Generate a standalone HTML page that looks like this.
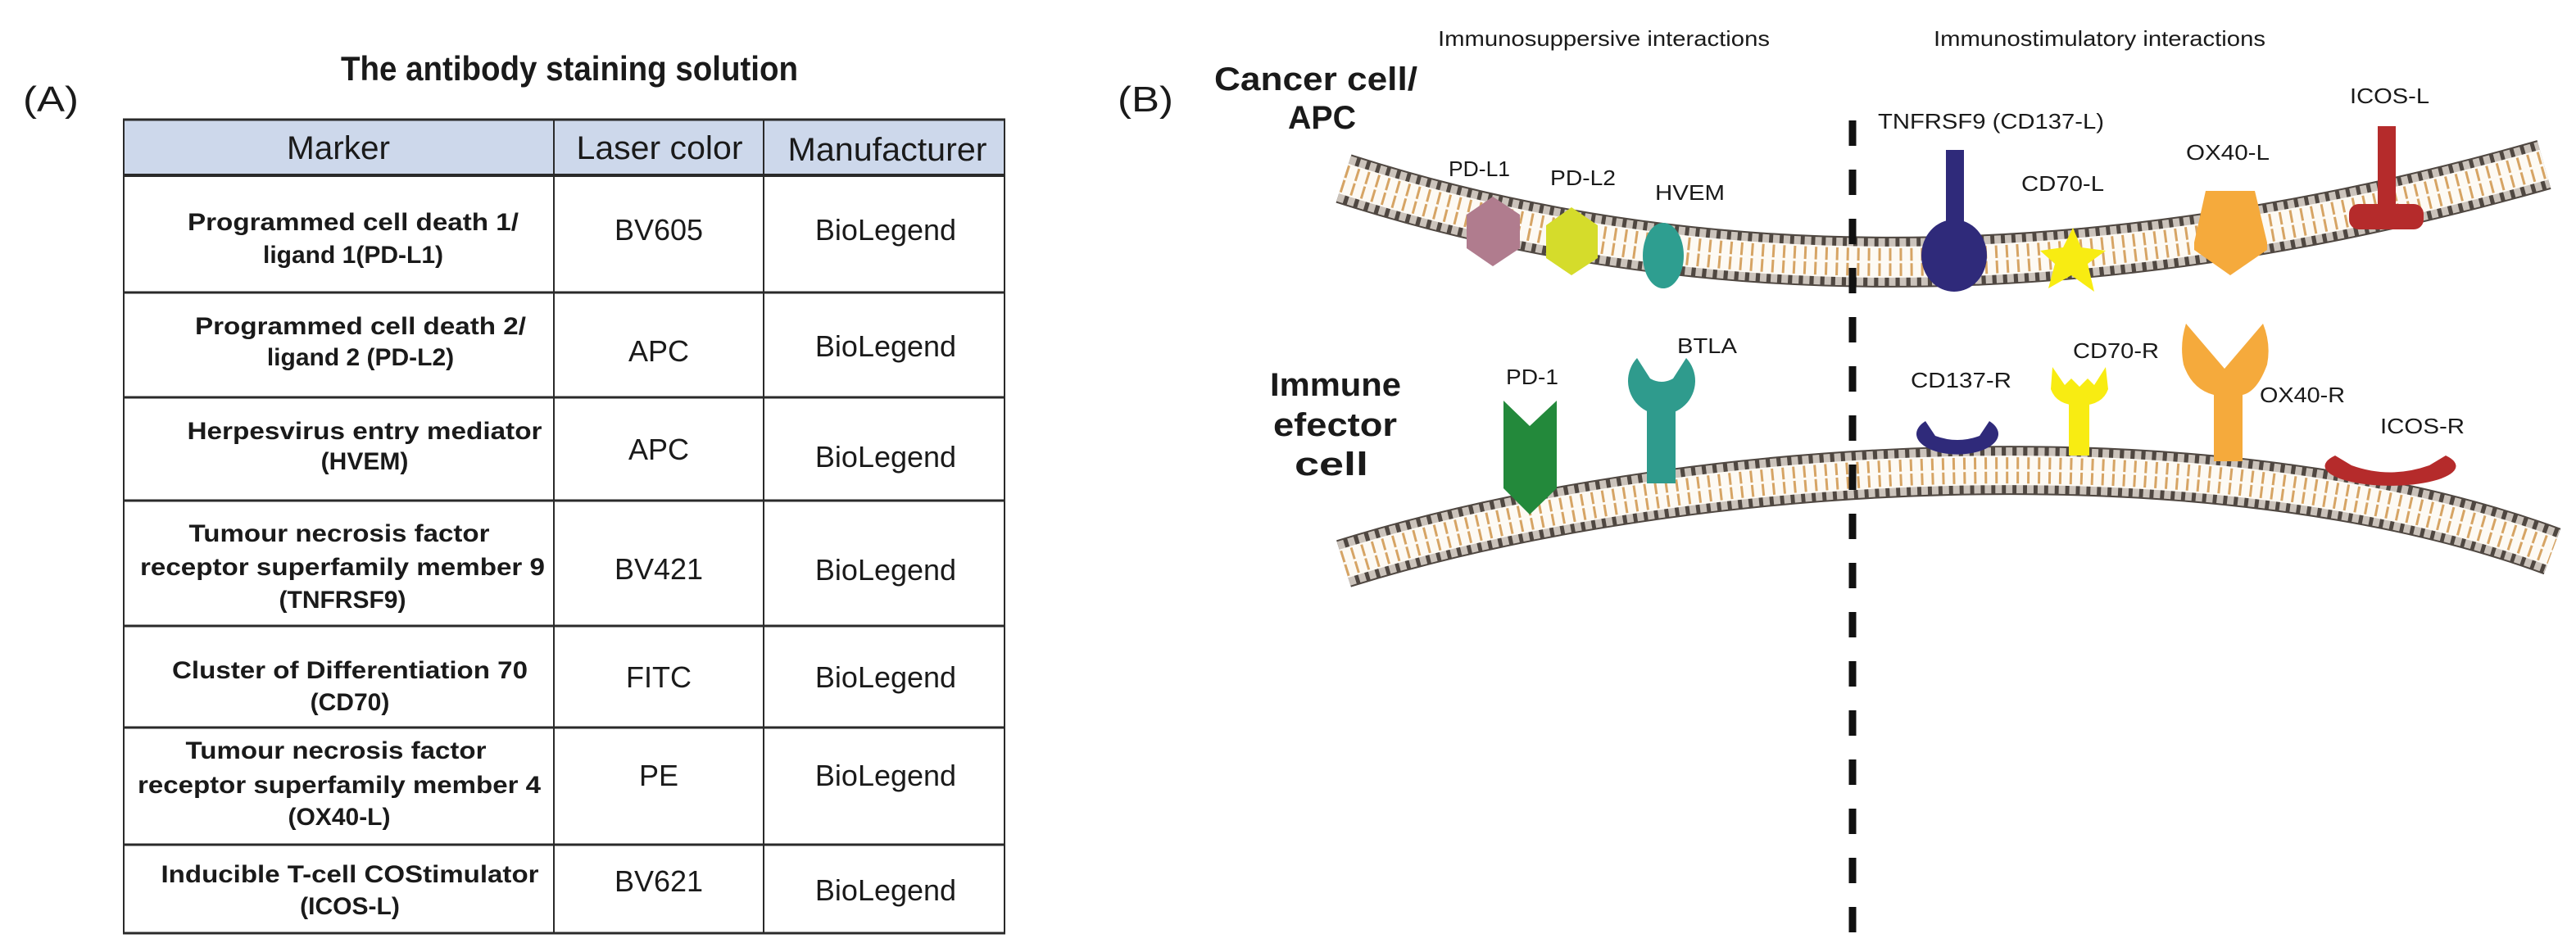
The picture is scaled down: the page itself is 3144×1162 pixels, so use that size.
<!DOCTYPE html>
<html><head><meta charset="utf-8"><style>
html,body{margin:0;padding:0;background:#fff;}
svg{display:block;}
text{font-family:"Liberation Sans",Arial,sans-serif;fill:#1a1a1a;}
</style></head><body>
<svg width="3144" height="1162" viewBox="0 0 3144 1162" xmlns="http://www.w3.org/2000/svg">
<rect width="3144" height="1162" fill="#fff"/>
<!-- Panel A -->
<text x="695" y="98" font-size="42" font-weight="bold" text-anchor="middle" textLength="558" lengthAdjust="spacingAndGlyphs">The antibody staining solution</text>
<text x="28" y="136" font-size="44" textLength="68" lengthAdjust="spacingAndGlyphs">(A)</text>
<rect x="150" y="146" width="1077" height="68" fill="#cdd8eb"/>
<g stroke="#2a2a2a" stroke-width="3" fill="none">
<line x1="150" y1="146" x2="1227" y2="146"/>
<line x1="150" y1="214" x2="1227" y2="214" stroke-width="4"/>
<line x1="150" y1="357" x2="1227" y2="357"/>
<line x1="150" y1="485" x2="1227" y2="485"/>
<line x1="150" y1="611" x2="1227" y2="611"/>
<line x1="150" y1="764" x2="1227" y2="764"/>
<line x1="150" y1="888" x2="1227" y2="888"/>
<line x1="150" y1="1031" x2="1227" y2="1031"/>
<line x1="150" y1="1139" x2="1227" y2="1139"/>
<line x1="151" y1="146" x2="151" y2="1139" stroke-width="2"/>
<line x1="676" y1="146" x2="676" y2="1139" stroke-width="2"/>
<line x1="932" y1="146" x2="932" y2="1139" stroke-width="2"/>
<line x1="1226" y1="146" x2="1226" y2="1139" stroke-width="2"/>
</g>
<g font-size="40" text-anchor="middle">
<text x="413" y="194" textLength="126" lengthAdjust="spacingAndGlyphs">Marker</text>
<text x="805" y="194" textLength="203" lengthAdjust="spacingAndGlyphs">Laser color</text>
<text x="1083" y="196" textLength="243" lengthAdjust="spacingAndGlyphs">Manufacturer</text>
</g>
<g font-size="30" font-weight="bold" text-anchor="middle">
<text x="431" y="281" textLength="404" lengthAdjust="spacingAndGlyphs">Programmed cell death 1/</text>
<text x="431" y="321">ligand 1(PD-L1)</text>
<text x="440" y="408" textLength="404" lengthAdjust="spacingAndGlyphs">Programmed cell death 2/</text>
<text x="440" y="446">ligand 2 (PD-L2)</text>
<text x="445" y="536" textLength="433" lengthAdjust="spacingAndGlyphs">Herpesvirus entry mediator</text>
<text x="445" y="573">(HVEM)</text>
<text x="414" y="661" textLength="367" lengthAdjust="spacingAndGlyphs">Tumour necrosis factor</text>
<text x="418" y="702" textLength="494" lengthAdjust="spacingAndGlyphs">receptor superfamily member 9</text>
<text x="418" y="742">(TNFRSF9)</text>
<text x="427" y="828" textLength="434" lengthAdjust="spacingAndGlyphs">Cluster of Differentiation 70</text>
<text x="427" y="867">(CD70)</text>
<text x="410" y="926" textLength="367" lengthAdjust="spacingAndGlyphs">Tumour necrosis factor</text>
<text x="414" y="968" textLength="492" lengthAdjust="spacingAndGlyphs">receptor superfamily member 4</text>
<text x="414" y="1007">(OX40-L)</text>
<text x="427" y="1077" textLength="461" lengthAdjust="spacingAndGlyphs">Inducible T-cell COStimulator</text>
<text x="427" y="1116">(ICOS-L)</text>
</g>
<g font-size="36" text-anchor="middle">
<text x="804" y="293">BV605</text><text x="1081" y="293">BioLegend</text>
<text x="804" y="441">APC</text><text x="1081" y="435">BioLegend</text>
<text x="804" y="561">APC</text><text x="1081" y="570">BioLegend</text>
<text x="804" y="707">BV421</text><text x="1081" y="708">BioLegend</text>
<text x="804" y="839">FITC</text><text x="1081" y="839">BioLegend</text>
<text x="804" y="959">PE</text><text x="1081" y="959">BioLegend</text>
<text x="804" y="1088">BV621</text><text x="1081" y="1099">BioLegend</text>
</g>
<!-- Panel B -->
<text x="1364" y="136" font-size="44" textLength="68" lengthAdjust="spacingAndGlyphs">(B)</text>
<g font-size="26">
<text x="1755" y="56" textLength="405" lengthAdjust="spacingAndGlyphs">Immunosuppersive interactions</text>
<text x="2360" y="56" textLength="405" lengthAdjust="spacingAndGlyphs">Immunostimulatory interactions</text>
</g>
<g font-size="40" font-weight="bold">
<text x="1482" y="110" textLength="248" lengthAdjust="spacingAndGlyphs">Cancer cell/</text>
<text x="1572" y="157" textLength="83" lengthAdjust="spacingAndGlyphs">APC</text>
<text x="1550" y="483" textLength="160" lengthAdjust="spacingAndGlyphs">Immune</text>
<text x="1554" y="532" textLength="151" lengthAdjust="spacingAndGlyphs">efector</text>
<text x="1580" y="580" textLength="90" lengthAdjust="spacingAndGlyphs">cell</text>
</g>
<!-- membranes -->
<g fill="none">
<path d="M1640 218 Q2300 430 3105 201" stroke="#4f4741" stroke-width="62"/>
<path d="M1640 218 Q2300 430 3105 201" stroke="#cbc3bb" stroke-width="58" stroke-dasharray="8 5"/>
<path d="M1640 218 Q2300 430 3105 201" stroke="#fdfaf4" stroke-width="38"/>
<path d="M1640 218 Q2300 430 3105 201" stroke="#d6a464" stroke-width="34" stroke-dasharray="3 10"/>
<path d="M1640 218 Q2300 430 3105 201" stroke="#fdfaf4" stroke-width="3"/>
<path d="M1640 688 C2050 560 2700 520 3115 673" stroke="#4f4741" stroke-width="60"/>
<path d="M1640 688 C2050 560 2700 520 3115 673" stroke="#cbc3bb" stroke-width="56" stroke-dasharray="8 5"/>
<path d="M1640 688 C2050 560 2700 520 3115 673" stroke="#fdfaf4" stroke-width="36"/>
<path d="M1640 688 C2050 560 2700 520 3115 673" stroke="#d6a464" stroke-width="32" stroke-dasharray="3 10"/>
<path d="M1640 688 C2050 560 2700 520 3115 673" stroke="#fdfaf4" stroke-width="3"/>
</g>
<!-- dashed divider -->
<line x1="2261" y1="147" x2="2261" y2="1162" stroke="#111" stroke-width="9" stroke-dasharray="31 29"/>
<!-- top proteins -->
<polygon points="1822,240 1855,262 1855,303 1822,325 1790,303 1790,262" fill="#b07c8e"/>
<polygon points="1918,253 1950,275 1950,315 1918,336 1887,315 1887,275" fill="#d5dc2b"/>
<ellipse cx="2030" cy="312" rx="25" ry="40" fill="#2e9e90"/>
<rect x="2375" y="183" width="22" height="100" fill="#2f2a7a"/>
<ellipse cx="2385" cy="312" rx="40" ry="44" fill="#2f2a7a"/>
<polygon points="2530,278 2540,302 2570,306 2548,322 2556,356 2528,336 2500,352 2508,322 2490,306 2518,302" fill="#f8ec12"/>
<polygon points="2692,233 2752,233 2767,296 2767,305 2722,336 2678,305 2678,296" fill="#f5aa3c"/>
<rect x="2902" y="154" width="22" height="100" fill="#b52b2b"/>
<rect x="2867" y="249" width="91" height="31" rx="12" fill="#b52b2b"/>
<!-- bottom proteins -->
<polygon points="1835,489 1867,520 1900,489 1900,596 1867,628 1835,596" fill="#23893b"/>
<path d="M1998 437 A41 41 0 1 0 2058 437 L2042 462 Q2028 470 2014 462 Z" fill="#2f9b8d"/>
<rect x="2010" y="493" width="35" height="97" fill="#2f9b8d"/>
<path d="M2350 514 A50 25 0 1 0 2428 514 L2416 532 Q2389 542 2362 532 Z" fill="#2f2a7a"/>
<path d="M2505 448 L2503 475 Q2510 495 2538 495 Q2566 495 2573 475 L2570 448 L2556 470 L2548 462 L2538 472 L2528 462 L2520 470 Z" fill="#f8ec12"/>
<rect x="2525" y="491" width="25" height="65" fill="#f8ec12"/>
<path d="M2668 395 L2715 450 L2762 395 Q2772 420 2767 445 Q2755 478 2737 482 L2737 563 L2702 563 L2702 482 Q2675 475 2665 445 Q2660 420 2668 395 Z" fill="#f5aa3c"/>
<path d="M2850 556 A80 24 0 1 0 2985 556 L2965 568 Q2917 585 2870 568 Z" fill="#b52b2b"/>
<!-- protein labels -->
<g font-size="26">
<text x="1768" y="215" textLength="75" lengthAdjust="spacingAndGlyphs">PD-L1</text>
<text x="1892" y="226" textLength="80" lengthAdjust="spacingAndGlyphs">PD-L2</text>
<text x="2020" y="244" textLength="85" lengthAdjust="spacingAndGlyphs">HVEM</text>
<text x="2292" y="157" textLength="276" lengthAdjust="spacingAndGlyphs">TNFRSF9 (CD137-L)</text>
<text x="2467" y="233" textLength="101" lengthAdjust="spacingAndGlyphs">CD70-L</text>
<text x="2668" y="195" textLength="102" lengthAdjust="spacingAndGlyphs">OX40-L</text>
<text x="2868" y="126" textLength="97" lengthAdjust="spacingAndGlyphs">ICOS-L</text>
<text x="1838" y="469" textLength="64" lengthAdjust="spacingAndGlyphs">PD-1</text>
<text x="2047" y="431" textLength="73" lengthAdjust="spacingAndGlyphs">BTLA</text>
<text x="2332" y="473" textLength="123" lengthAdjust="spacingAndGlyphs">CD137-R</text>
<text x="2530" y="437" textLength="105" lengthAdjust="spacingAndGlyphs">CD70-R</text>
<text x="2758" y="491" textLength="104" lengthAdjust="spacingAndGlyphs">OX40-R</text>
<text x="2905" y="529" textLength="103" lengthAdjust="spacingAndGlyphs">ICOS-R</text>
</g>
</svg>
</body></html>
